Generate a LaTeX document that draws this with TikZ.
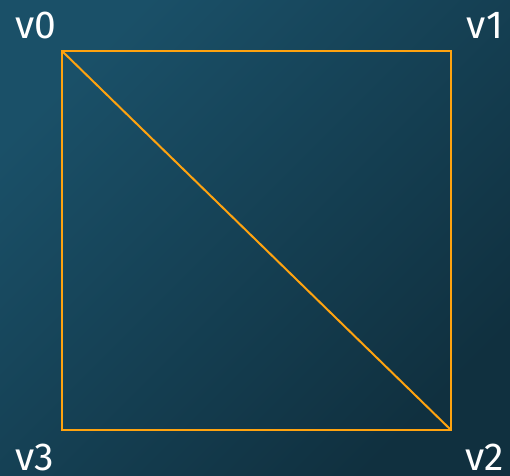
\documentclass[tikz,border=0pt]{standalone}
\usepackage{fontspec}
\setmainfont{Fira Sans}
\definecolor{bgA}{HTML}{1A5068}
\definecolor{bgB}{HTML}{10303F}
\definecolor{edgeC}{HTML}{FFA30F}
\begin{document}
\begin{tikzpicture}[x=1pt,y=-1pt,
  edge/.style={draw=edgeC,line width=2pt},
  lbl/.style={text=white,font=\fontsize{39}{39}\selectfont,inner sep=0pt}]
\shade[left color=bgA,right color=bgB,shading angle=45] (0,0) rectangle (510,475);
\useasboundingbox (0,0) rectangle (510,475);
\coordinate (v0) at (62,51);
\coordinate (v1) at (451,51);
\coordinate (v2) at (451,430);
\coordinate (v3) at (62,430);
\draw[edge] (v0) -- (v1) -- (v2) -- (v3) -- cycle;
\draw[edge] (v0) -- (v2);
\node[lbl,anchor=base] (l0) at (36,38) {v0};
\node[lbl,anchor=base] (l1) at (485,38) {v1};
\node[lbl,anchor=base] (l2) at (485,470) {v2};
\node[lbl,anchor=base] (l3) at (35,470) {v3};
\end{tikzpicture}
\end{document}
